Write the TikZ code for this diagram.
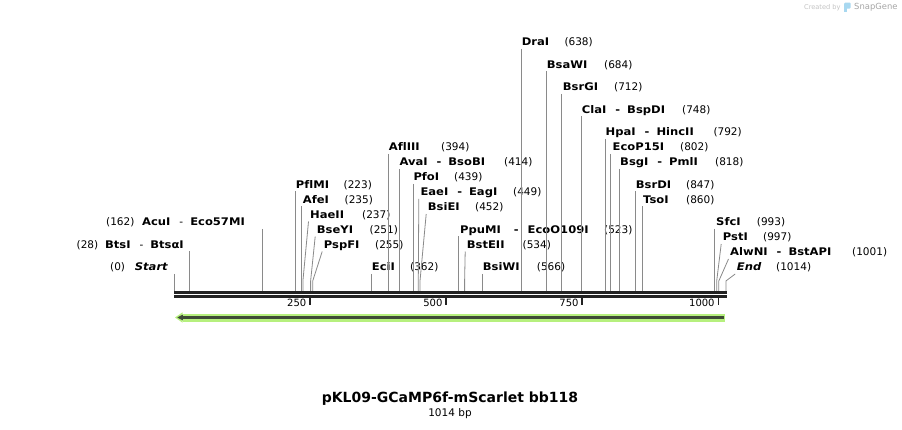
\documentclass[tikz,border=0pt]{standalone}
\usepackage{fontspec}
\setmainfont{DejaVu Sans}[Ligatures={NoCommon}]
\newfontfamily\labfont{DejaVu Sans}[Ligatures={NoCommon}, BoldFeatures={FakeStretch=1.1}, BoldItalicFeatures={FakeStretch=1.1}]
\definecolor{cutline}{HTML}{8A8A8A}
\definecolor{seqc}{HTML}{222222}
\definecolor{lgreen}{HTML}{B6F07E}
\definecolor{dgreen}{HTML}{3E4B36}
\definecolor{logogray}{HTML}{C4C4C4}
\definecolor{logotext}{HTML}{A6A6A6}
\definecolor{logoblue}{HTML}{A8D8F0}
\newcommand\nm[1]{\textbf{#1}}
\newcommand\dsh{\hspace{9pt}-\hspace{7pt}}
\begin{document}
\begin{tikzpicture}[x=1pt,y=-1pt,
 lab/.style={font=\labfont\fontsize{10.5}{12}\selectfont, inner xsep=0pt, inner ysep=1pt, text height=7pt, text depth=2pt, anchor=base west},
 labl/.style={lab, anchor=base east},
 cut/.style={draw=cutline, line width=0.8pt},
 tickl/.style={font=\fontsize{10}{12}\selectfont, inner sep=0pt, anchor=base east},
]
\useasboundingbox[fill=white] (0,0) rectangle (902,430);

% sequence bars
\fill[seqc] (174,291) rectangle (727.3,294);
\fill[seqc] (174,295.2) rectangle (727.3,297.6);

% ticks
\foreach \t/\x in {250/310.0,500/446.1,750/582.2,1000/718.3}{
  \fill[seqc] (\x-0.75,297.6) rectangle (\x+0.75,305);
  \node[tickl] (t\t) at (\x-3.5,307) {\t};
}

% sites
\foreach \p/\x in {0/173.9,28/189.1,162/262.1,223/295.3,235/301.8,237/302.9,251/310.6,255/312.7,362/371.0,394/388.4,414/399.3,439/412.9,449/418.3,452/420.0,523/458.6,534/464.6,566/482.0,638/521.2,684/546.3,712/561.5,748/581.1,792/605.1,802/610.5,818/619.2,847/635.0,860/642.1,993/714.5,997/716.7,1001/718.8,1014/725.9}{
  \coordinate (s\p) at (\x,291);
  \coordinate (b\p) at (\x,281);
}

% labels: name x, baseline, name, position x, position
\foreach \n/\x/\y/\t/\px/\p in {
  DraI/521.7/45.8/DraI/564.3/638,
  BsaWI/546.7/68.3/BsaWI/604.0/684,
  BsrGI/562.7/90.8/BsrGI/614.0/712,
  ClaI/581.7/113.3/{ClaI\dsh\nm{BspDI}}/682.0/748,
  HpaI/605.5/135.8/{HpaI\dsh\nm{HincII}}/713.3/792,
  EcoP/612.5/150.8/EcoP15I/680.0/802,
  BsgI/620.0/165.8/{BsgI\dsh\nm{PmlI}}/715.0/818,
  BsrDI/635.7/188.3/BsrDI/686.0/847,
  TsoI/643.0/203.3/TsoI/686.0/860,
  Afl/388.7/150.8/AflIII/441.0/394,
  AvaI/399.3/165.8/{AvaI\dsh\nm{BsoBI}}/504.0/414,
  PfoI/413.3/180.8/PfoI/454.0/439,
  PflMI/295.7/188.3/PflMI/343.5/223,
  AfeI/302.7/203.3/AfeI/344.5/235,
  EciI/371.7/270.8/EciI/410.0/362,
  PpuMI/460.0/233.3/{PpuMI\hspace{13pt}-\hspace{9pt}\nm{EcoO109I}}/604.0/523,
  BsiWI/482.7/270.8/BsiWI/536.7/566,
  SfcI/716.0/225.8/SfcI/756.7/993,
  EaeI/420.3/195.8/{EaeI\dsh\nm{EagI}}/513.0/449,
  BsiEI/427.7/210.8/BsiEI/475.0/452,
  HaeII/310.0/218.3/HaeII/362.0/237,
  BseYI/316.7/233.3/BseYI/369.5/251,
  PspFI/323.7/248.3/PspFI/375.0/255,
  BstE/466.7/248.3/BstEII/522.5/534,
  PstI/722.7/240.8/PstI/763.0/997,
  AlwNI/730.0/255.8/{AlwNI\dsh\nm{BstAPI}}/852.0/1001}{
  \node[lab] (l\n) at (\x,\y) {\nm{\t}};
  \node[lab] (p\n) at (\px,\y) {(\p)};
}
\node[lab] (lEnd) at (736.7,270.8) {\textbf{\textit{End}}};
\node[lab] (pEnd) at (776.0,270.8) {(1014)};

% straight connectors
\foreach \n/\p in {DraI/638,BsaWI/684,BsrGI/712,ClaI/748,HpaI/792,EcoP/802,BsgI/818,BsrDI/847,TsoI/860,Afl/394,AvaI/414,PfoI/439,PflMI/223,AfeI/235,EciI/362,PpuMI/523,BsiWI/566,SfcI/993}{
  \draw[cut] (s\p |- l\n.south) -- (s\p);
}
% slanted connectors
\foreach \n/\p in {EaeI/449,BsiEI/452,HaeII/237,BseYI/251,PspFI/255,BstE/534,PstI/997,AlwNI/1001,End/1014}{
  \draw[cut] ([xshift=-1.5pt]l\n.south west) -- (b\p) -- (s\p);
}

% left-hand labels
\node[lab]  (pStart) at (110.0,270.8) {(0)};
\node[labl] (lStart) at (168.3,270.8) {\textbf{\textit{Start}}};
\node[lab]  (pBtsI)  at (76.5,248.3) {(28)};
\node[labl] (lBtsI)  at (184.0,248.3) {\nm{BtsI}\dsh\nm{BtsαI}};
\node[lab]  (pAcuI)  at (106.0,225.8) {(162)};
\node[labl] (lAcuI)  at (245.0,225.8) {\nm{AcuI}\dsh\nm{Eco57MI}};
\foreach \n/\p in {Start/0,BtsI/28,AcuI/162}{
  \draw[cut] (s\p |- l\n.south) -- (s\p);
}

% feature arrow
\fill[lgreen] (725,313.5) rectangle (182.5,321.5);
\fill[lgreen] (182.6,312.3) -- (175,317.5) -- (182.6,322.7) -- cycle;
\draw[dgreen, line width=2.6pt] (723.5,317.5) -- (181.5,317.5);
\fill[dgreen] (177.3,317.5) -- (182.8,314.6) -- (182.8,320.4) -- cycle;

% title
\node[font=\fontsize{14}{16}\bfseries, inner sep=0pt] (title) at (450,399) {pKL09-GCaMP6f-mScarlet bb118};
\node[font=\fontsize{10.5}{12}\selectfont, inner sep=0pt] (len) at (450,413.5) {1014 bp};

% logo
\node[font=\fontsize{6.6}{8}\selectfont, text=logogray, inner sep=0pt, anchor=west] (cby) at (804,7.5) {Created by};
\fill[logoblue, rounded corners=1pt] (844.2,2.6) rectangle (850.6,8.6);
\fill[logoblue] (844.2,6) rectangle (846.8,12.4);
\node[font=\fontsize{8.4}{10}\selectfont, text=logotext, inner sep=0pt, anchor=west] (sg) at (854,7.5) {SnapGene};
\end{tikzpicture}
\end{document}
